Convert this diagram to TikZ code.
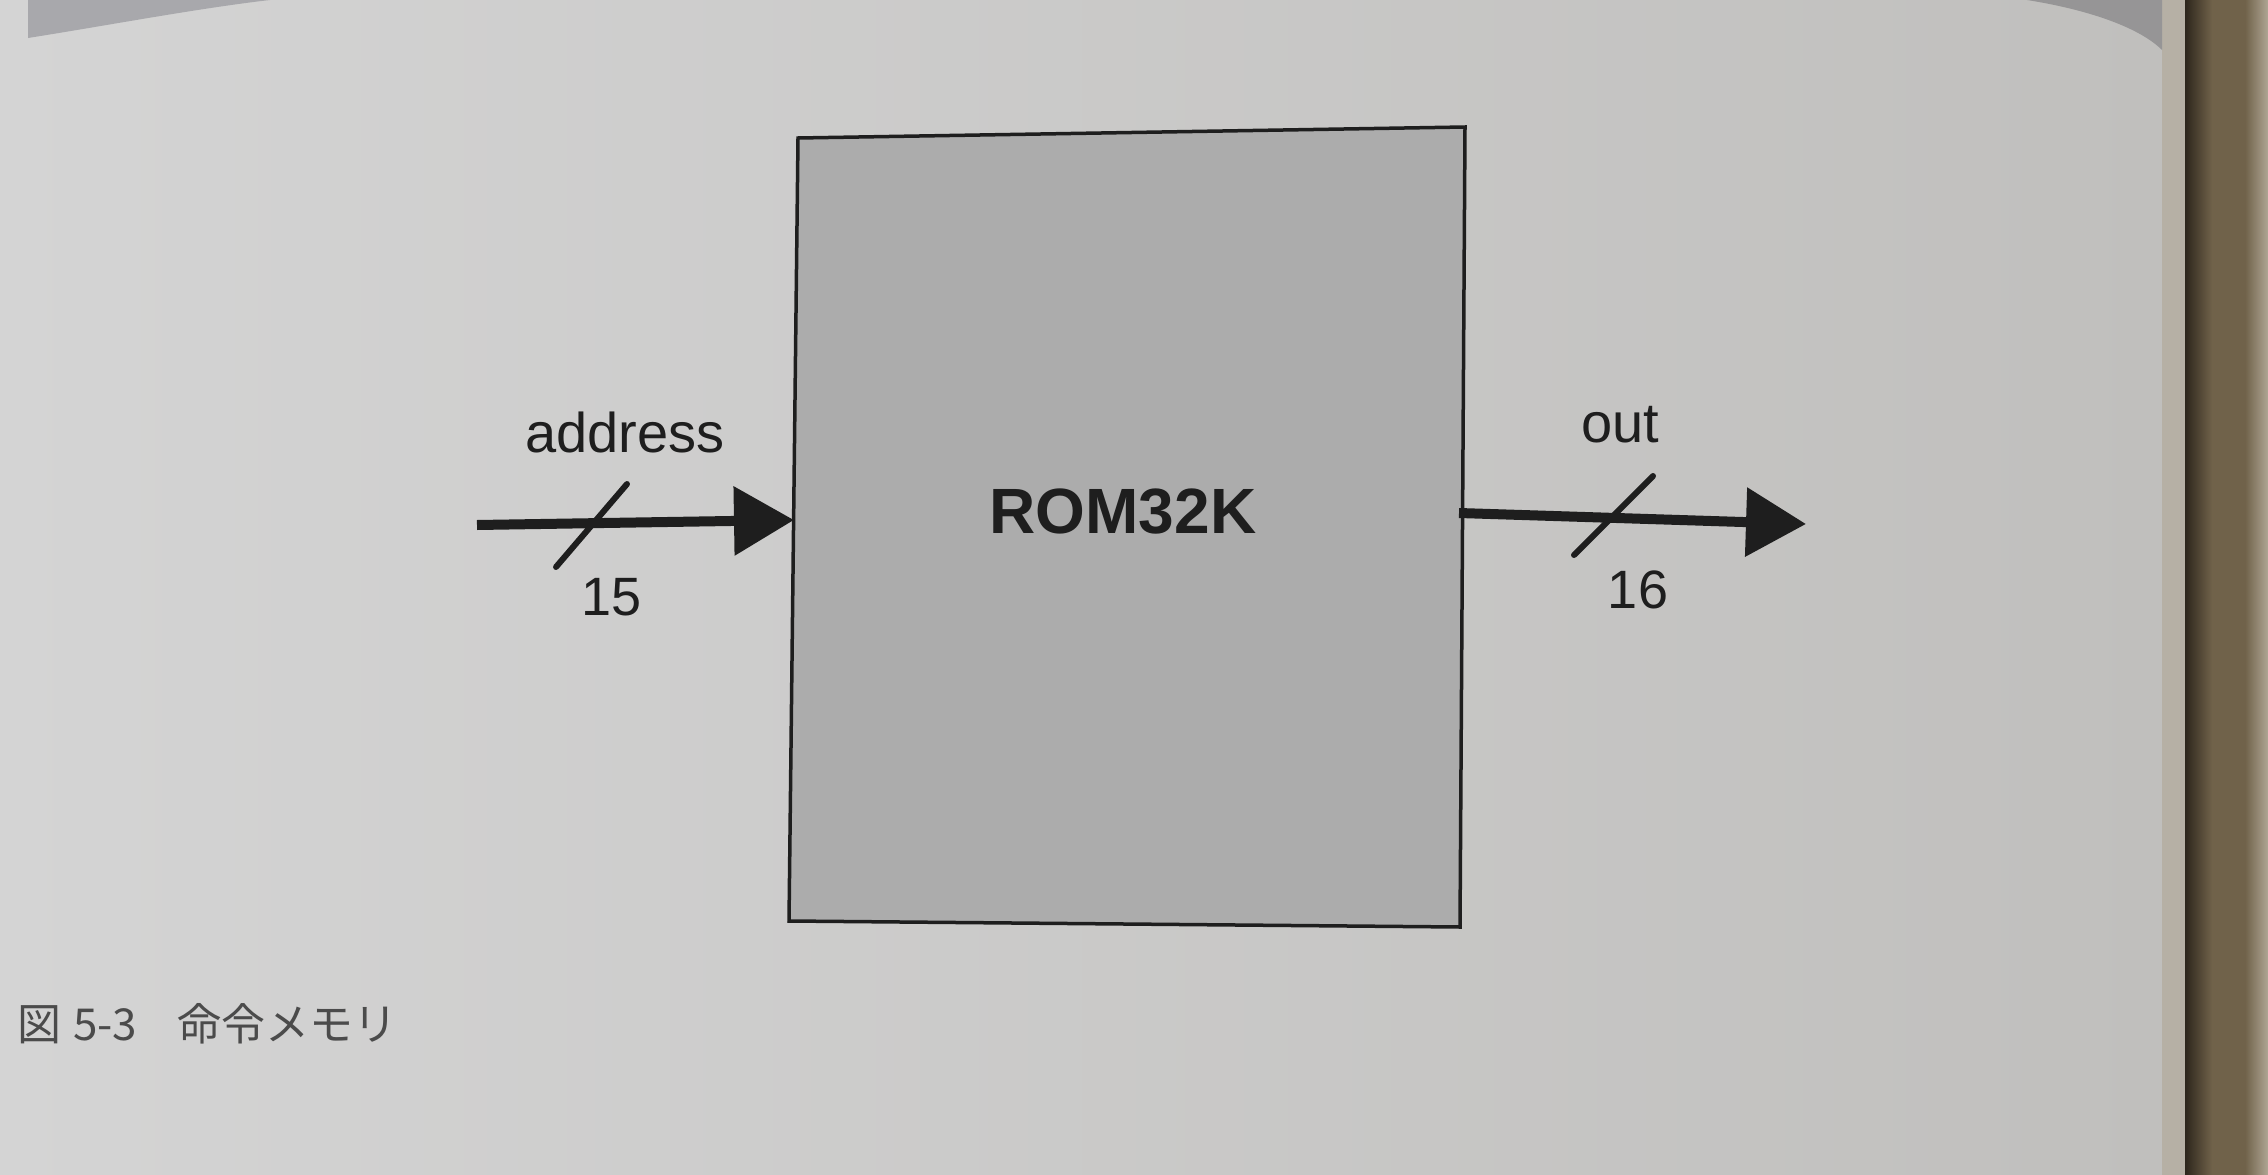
\documentclass[tikz,border=0pt]{standalone}
\usepackage{fontspec}
\setmainfont{Liberation Sans}
\newfontfamily\jpfont{Noto Sans CJK JP}
\usetikzlibrary{arrows.meta}
\definecolor{paperL}{RGB}{212,212,212}
\definecolor{paperR}{RGB}{192,191,189}
\definecolor{bandgray}{RGB}{168,168,172}
\definecolor{bandgrayR}{RGB}{150,149,150}
\definecolor{boxgray}{RGB}{172,172,172}
\definecolor{inkc}{RGB}{30,30,30}
\definecolor{capgray}{RGB}{75,75,75}
\definecolor{edgeLight}{RGB}{182,176,165}
\definecolor{bindDark}{RGB}{45,38,28}
\definecolor{bindMid}{RGB}{112,98,74}
\definecolor{bindLight}{RGB}{175,166,148}
\tikzset{
  bus/.style={line width=10pt, draw=inkc, -{Triangle[length=60pt,width=67pt]}},
  slash/.style={line width=6pt, draw=inkc, line cap=round},
  lbl/.style={font=\fontsize{56}{60}\selectfont, text=inkc, anchor=base, inner sep=0pt},
  numlbl/.style={font=\fontsize{54}{58}\selectfont, text=inkc, anchor=base, inner sep=0pt},
  romlbl/.style={font=\fontsize{64}{70}\selectfont\bfseries, text=inkc, anchor=base, inner sep=0pt},
  caplbl/.style={font=\fontsize{44}{48}\selectfont\jpfont, text=capgray, anchor=base west, inner sep=0pt},
}
\begin{document}
\begin{tikzpicture}[x=1pt,y=-1pt]
\useasboundingbox (0,0) rectangle (2268,1175);
% paper
\shade[left color=paperL, right color=paperR] (0,0) rectangle (2163,1175);
\fill[edgeLight] (2162,0) rectangle (2186,1175);
% shadow wedges at top
\fill[bandgray] (28,0) -- (28,38) .. controls (110,25) and (200,8) .. (270,0) -- cycle;
\fill[bandgrayR] (2027,0) .. controls (2090,10) and (2140,28) .. (2162,50) -- (2162,0) -- cycle;
% binding
\shade[left color=bindDark, right color=bindMid] (2185,0) rectangle (2212,1175);
\shade[left color=bindMid, right color=bindMid] (2212,0) rectangle (2245,1175);
\shade[left color=bindMid, right color=bindLight] (2245,0) rectangle (2268,1175);
% ROM box
\coordinate (tl) at (798,138);
\coordinate (tr) at (1465,127);
\coordinate (br) at (1460,927);
\coordinate (bl) at (789,921);
\draw[fill=boxgray, draw=inkc, line width=3.5pt] (tl) -- (tr) -- (br) -- (bl) -- cycle;
\node[romlbl] (rom) at (1123,533) {ROM32K};
% input bus
\coordinate (ain) at (477,525);
\coordinate (ainend) at (794,520);
\draw[bus] (ain) -- (ainend);
\coordinate (s1a) at (556,567);
\coordinate (s1b) at (627,484);
\draw[slash] (s1a) -- (s1b);
\node[lbl] (addr) at (625,452) {address};
\node[numlbl] (n15) at (612,615) {15};
% output bus
\coordinate (aout) at (1459,513);
\coordinate (aoutend) at (1806,524);
\draw[bus] (aout) -- (aoutend);
\coordinate (s2a) at (1574,555);
\coordinate (s2b) at (1653,476);
\draw[slash] (s2a) -- (s2b);
\node[lbl] (outl) at (1620,442) {out};
\node[numlbl] (n16) at (1638,608) {16};
% caption
\node[caplbl] (cap) at (17,1040) {図\hspace{12pt}5-3\hspace{40pt}命令メモリ};
\end{tikzpicture}
\end{document}
